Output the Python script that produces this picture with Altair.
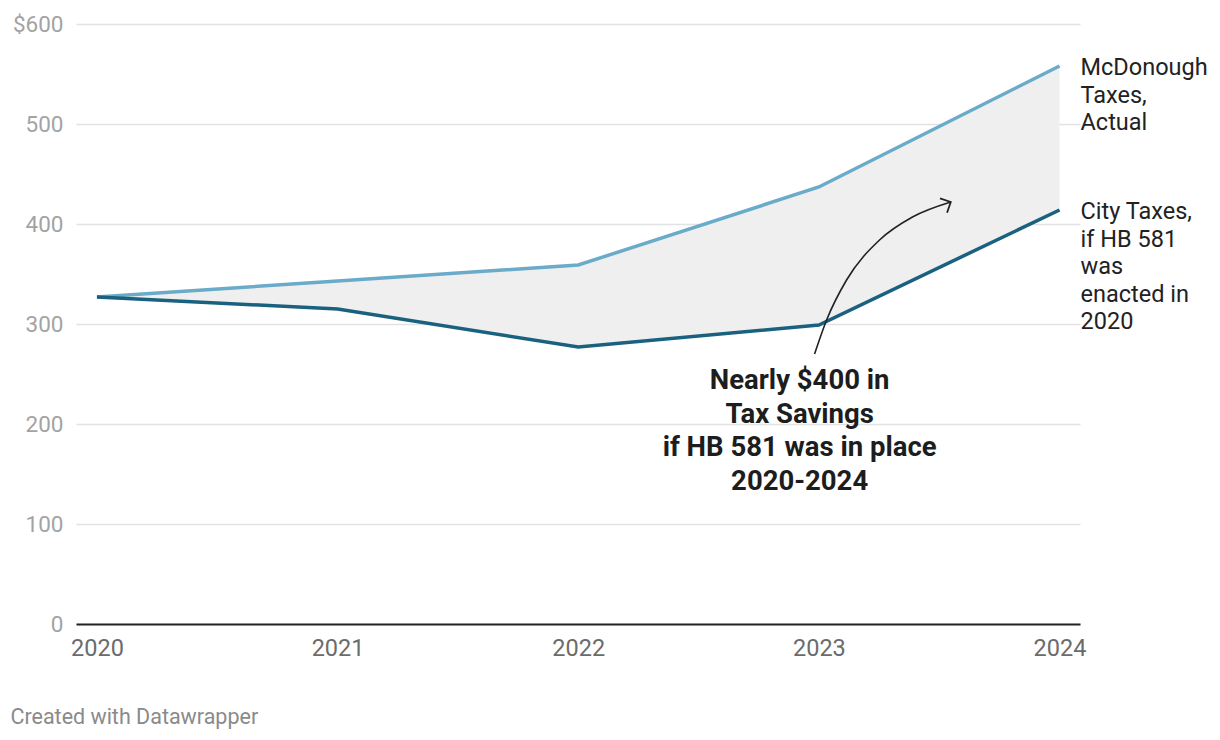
import altair as alt
import pandas as pd

years = [2020, 2021, 2022, 2023, 2024]
mcdonough = [327, 343, 359, 437, 558]
city = [327, 315, 277, 299, 414]

# annotation arrow path (data coordinates)
arrow_x = [2022.982, 2023.032, 2023.115, 2023.252, 2023.389, 2023.548]
arrow_y = [270, 304, 344, 384, 407, 422]

FONT = "Roboto"
LIGHT = "#6aabc9"
DARK = "#1a6180"

df = pd.DataFrame({"year": years, "mcd": mcdonough, "city": city})
arrow_df = pd.DataFrame({"x": arrow_x, "y": arrow_y, "o": range(len(arrow_x))})
tip_df = pd.DataFrame({"x": [arrow_x[-1]], "y": [arrow_y[-1]]})

xscale = alt.Scale(domain=[2019.913, 2024.085], nice=False, zero=False)
yscale = alt.Scale(domain=[0, 600], nice=False)

x_enc = alt.X("year:Q", scale=xscale, title=None,
              axis=alt.Axis(values=years, format="d", grid=False, ticks=False,
                            domainColor="#222", domainWidth=2, labelFont=FONT,
                            labelFontSize=23.5, labelColor="#6b6b6b", labelPadding=12,
                            labelFlush=False))
y_enc = alt.Y("mcd:Q", scale=yscale, title=None,
              axis=alt.Axis(values=[0, 100, 200, 300, 400, 500, 600], domain=False, ticks=False,
                            gridColor="#e2e2e2", gridWidth=1.3, labelFont=FONT, labelFontSize=22.5,
                            labelColor="#a3a3a3", labelPadding=13,
                            labelExpr="datum.value == 600 ? '$600' : datum.label"))

area = alt.Chart(df).mark_area(color="#efefef", opacity=1).encode(
    x=x_enc, y=y_enc, y2="city:Q")

line_mcd = alt.Chart(df).mark_line(color=LIGHT, strokeWidth=3.5).encode(
    x="year:Q", y="mcd:Q")
line_city = alt.Chart(df).mark_line(color=DARK, strokeWidth=3.5).encode(
    x="year:Q", y="city:Q")

end_df = pd.DataFrame({
    "year": [years[-1], years[-1]],
    "v": [mcdonough[-1], city[-1]],
    "label": [["McDonough", "Taxes,", "Actual"],
              ["City Taxes,", "if HB 581", "was", "enacted in", "2020"]],
})
end_labels = alt.Chart(end_df).mark_text(
    align="left", baseline="top", dx=21, dy=-10, font=FONT, fontSize=23.5,
    lineHeight=27.5, color="#222").encode(x="year:Q", y="v:Q", text="label")

note_df = pd.DataFrame({"x": [2022.92], "y": [257],
                        "t": [["Nearly $400 in", "Tax Savings", "if HB 581 was in place", "2020-2024"]]})
note = alt.Chart(note_df).mark_text(
    align="center", baseline="top", font=FONT, fontSize=27.5, fontWeight="bold",
    lineHeight=33.5, color="#1d1d1d").encode(x="x:Q", y="y:Q", text="t")

arrow = alt.Chart(arrow_df).mark_line(color="#222", strokeWidth=1.6, interpolate="monotone").encode(
    x="x:Q", y="y:Q", order="o:Q")
tip = alt.Chart(tip_df).mark_point(
    shape="M-1,1L0,0L1,1", size=260, filled=False, color="#222", strokeWidth=1.8,
    angle=64, opacity=1).encode(x="x:Q", y="y:Q")

chart = alt.layer(area, line_mcd, line_city, arrow, tip, note, end_labels).properties(
    width=1004, height=600,
    background="white",
    autosize=alt.AutoSizeParams(type="none"),
    padding={"left": 68, "top": 16, "right": 132, "bottom": 116},
    title=alt.Title("Created with Datawrapper", orient="bottom", anchor="start",
                    font=FONT, fontSize=21.5, fontWeight="normal", color="#8a8a8a",
                    dx=-2, offset=47),
).configure_view(stroke=None)

chart.save("out.html", embed_options={"renderer": "svg", "actions": False})
